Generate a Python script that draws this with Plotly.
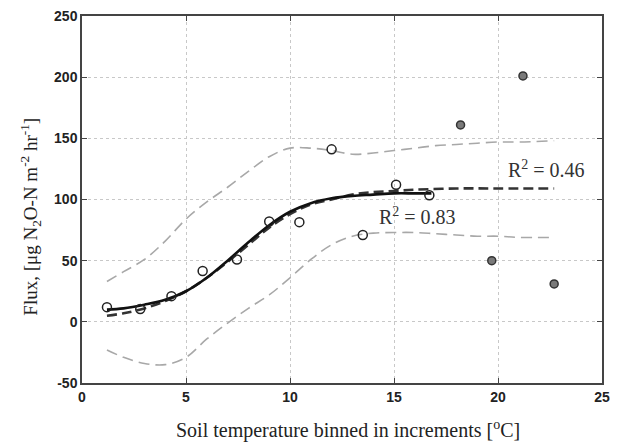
import plotly.graph_objects as go

# Observed bins (open circles, used in fit)
obs_x = [1.2, 2.8, 4.3, 5.8, 7.45, 9.0, 10.45, 12.0, 13.5, 15.1, 16.7]
obs_y = [12, 10.5, 21, 41.5, 51, 82, 81.5, 141, 71, 112, 103.5]

# Excluded bins (filled grey circles)
exc_x = [18.2, 19.7, 21.2, 22.7]
exc_y = [161, 50, 201, 31]

# Sigmoid fit (solid, R2 = 0.83)
fit_x = [1.2, 2, 3, 4, 5, 6, 7, 8, 9, 10, 11, 12, 13, 14, 15, 16, 16.8]
fit_y = [10, 11, 14, 18, 25, 36, 50, 65, 79, 90, 97, 101, 103, 104, 105, 105, 105]

# Fit to all data (dashed, R2 = 0.46)
fit2_x = [1.2, 2, 3, 4, 5, 6, 7, 8, 9, 10, 11, 12, 13, 14, 15, 16, 18, 20, 22.7]
fit2_y = [5, 7, 11, 17, 25, 36, 49, 63, 77, 88, 96, 100, 104, 106, 107, 108, 109, 109, 109]

# Confidence band (grey dashed)
band_x = [1.2, 2, 3, 4, 5, 6, 7, 8, 9, 10, 11, 12, 13, 14, 15, 16, 17, 18, 19, 20, 21, 22.7]
upper_y = [33, 41, 51, 66, 84, 98, 110, 123, 135, 142, 142, 140, 137, 138, 140, 142, 144, 145, 146, 147, 147, 148]
lower_y = [-23, -29, -34, -35, -29, -14, -1, 11, 22, 36, 51, 63, 70, 72.5, 73, 73, 72, 71, 70, 70, 69, 69]

x_ticks = [0, 5, 10, 15, 20, 25]
y_ticks = [-50, 0, 50, 100, 150, 200, 250]

fig = go.Figure()
fig.add_trace(go.Scatter(x=band_x, y=upper_y, mode="lines",
                         line=dict(color="#a8a8a8", width=1.6, dash="11px,6px", shape="spline")))
fig.add_trace(go.Scatter(x=band_x, y=lower_y, mode="lines",
                         line=dict(color="#a8a8a8", width=1.6, dash="11px,6px", shape="spline")))
fig.add_trace(go.Scatter(x=fit2_x, y=fit2_y, mode="lines",
                         line=dict(color="#333333", width=2.6, dash="10px,5px", shape="spline")))
fig.add_trace(go.Scatter(x=fit_x, y=fit_y, mode="lines",
                         line=dict(color="#111111", width=2.6, shape="spline")))
fig.add_trace(go.Scatter(x=obs_x, y=obs_y, mode="markers",
                         marker=dict(symbol="circle-open", size=9, color="#222222",
                                     line=dict(width=1.5))))
fig.add_trace(go.Scatter(x=exc_x, y=exc_y, mode="markers",
                         marker=dict(symbol="circle", size=8, color="#7a7a7a",
                                     line=dict(width=1.5, color="#333333"))))

serif = "Liberation Serif"
fig.add_annotation(x=22.35, y=125, text="R<sup>2</sup> = 0.46", showarrow=False,
                   font=dict(family=serif, size=20, color="#333333"))
fig.add_annotation(x=16.15, y=86.5, text="R<sup>2</sup> = 0.83", showarrow=False,
                   font=dict(family=serif, size=20, color="#333333"))

# Axis titles
fig.add_annotation(xref="paper", yref="paper", x=0.511, y=-0.127,
                   xanchor="center", yanchor="middle", showarrow=False,
                   text="Soil temperature binned in increments [<sup>o</sup>C]",
                   font=dict(family=serif, size=20, color="#222222"))
fig.add_annotation(xref="paper", yref="paper", x=-0.0985, y=0.4526,
                   xanchor="center", yanchor="middle", showarrow=False, textangle=-90,
                   text="Flux, [μg N<sub>2</sub>O-N m<sup>-2</sup> hr<sup>-1</sup>]",
                   font=dict(family=serif, size=19, color="#222222"))

axis_common = dict(showline=True, linecolor="#444444", linewidth=1.5, mirror="ticks",
                   ticks="inside", ticklen=5, tickcolor="#444444",
                   showgrid=True, gridcolor="#c8c8c8", griddash="dot", gridwidth=1,
                   zeroline=False,
                   tickfont=dict(family="Liberation Sans", size=14, color="#222222",
                                 weight="bold"))

fig.update_layout(
    width=618, height=445,
    margin=dict(l=82, r=8, t=14, b=62),
    paper_bgcolor="white", plot_bgcolor="white",
    showlegend=False,
    xaxis=dict(range=[0, 25], tickvals=x_ticks, ticktext=[str(v) for v in x_ticks],
               **axis_common),
    yaxis=dict(range=[-50, 250], tickvals=y_ticks, ticktext=[str(v) for v in y_ticks],
               **axis_common),
)

fig.write_html("out.html")
